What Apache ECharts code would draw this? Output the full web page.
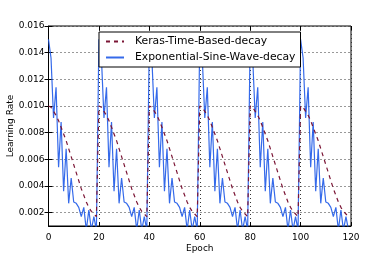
<!DOCTYPE html>
<html><head><meta charset="utf-8">
<script src="https://cdn.jsdelivr.net/npm/echarts@6/dist/echarts.min.js"></script>
<style>html,body{margin:0;padding:0;background:#fff}#c{width:390px;height:260px}</style>
</head><body><div id="c"></div>
<script>
// Keras time-based decay (restart every 20 epochs)
const kerasDecay = [
 0.0100,0.0099,0.0096,0.0093,0.0089,0.0084,0.0079,0.0074,0.0068,0.0062,0.0056,0.0050,0.0044,0.0038,0.0033,0.0028,0.0024,0.0021,0.0019,0.0017,
 0.0100,0.0099,0.0096,0.0093,0.0089,0.0084,0.0079,0.0074,0.0068,0.0062,0.0056,0.0050,0.0044,0.0038,0.0033,0.0028,0.0024,0.0021,0.0019,0.0017,
 0.0100,0.0099,0.0096,0.0093,0.0089,0.0084,0.0079,0.0074,0.0068,0.0062,0.0056,0.0050,0.0044,0.0038,0.0033,0.0028,0.0024,0.0021,0.0019,0.0017,
 0.0100,0.0099,0.0096,0.0093,0.0089,0.0084,0.0079,0.0074,0.0068,0.0062,0.0056,0.0050,0.0044,0.0038,0.0033,0.0028,0.0024,0.0021,0.0019,0.0017,
 0.0100,0.0099,0.0096,0.0093,0.0089,0.0084,0.0079,0.0074,0.0068,0.0062,0.0056,0.0050,0.0044,0.0038,0.0033,0.0028,0.0024,0.0021,0.0019,0.0017,
 0.0100,0.0099,0.0096,0.0093,0.0089,0.0084,0.0079,0.0074,0.0068,0.0062,0.0056,0.0050,0.0044,0.0038,0.0033,0.0028,0.0024,0.0021,0.0019,0.0017
];
// Exponential sine-wave decay
const sineDecay = [
 0.0150,0.0136,0.0091,0.0114,0.0054,0.0088,0.0036,0.0068,0.0027,0.0046,0.0028,0.0027,0.0024,0.0017,0.0024,0.0007,0.0022,0.0007,0.0017,0.0007,
 0.0150,0.0136,0.0091,0.0114,0.0054,0.0088,0.0036,0.0068,0.0027,0.0046,0.0028,0.0027,0.0024,0.0017,0.0024,0.0007,0.0022,0.0007,0.0017,0.0007,
 0.0150,0.0136,0.0091,0.0114,0.0054,0.0088,0.0036,0.0068,0.0027,0.0046,0.0028,0.0027,0.0024,0.0017,0.0024,0.0007,0.0022,0.0007,0.0017,0.0007,
 0.0150,0.0136,0.0091,0.0114,0.0054,0.0088,0.0036,0.0068,0.0027,0.0046,0.0028,0.0027,0.0024,0.0017,0.0024,0.0007,0.0022,0.0007,0.0017,0.0007,
 0.0150,0.0136,0.0091,0.0114,0.0054,0.0088,0.0036,0.0068,0.0027,0.0046,0.0028,0.0027,0.0024,0.0017,0.0024,0.0007,0.0022,0.0007,0.0017,0.0007,
 0.0150,0.0136,0.0091,0.0114,0.0054,0.0088,0.0036,0.0068,0.0027,0.0046,0.0028,0.0027,0.0024,0.0017,0.0024,0.0007,0.0022,0.0007,0.0017,0.0007
];
const xTicks = [0, 20, 40, 60, 80, 100, 120];
const yTicks = [0.002, 0.004, 0.006, 0.008, 0.010, 0.012, 0.014, 0.016];
const seriesNames = ['Keras-Time-Based-decay', 'Exponential-Sine-Wave-decay'];

const F = 'DejaVu Sans';
const toPairs = arr => arr.map((v, i) => [i, v]);
const chart = echarts.init(document.getElementById('c'), null, {renderer: 'canvas'});
const gridLine = {show: true, lineStyle: {color: '#333', type: [1, 3], width: 1}};
chart.setOption({
  animation: false,
  grid: {left: 48.5, right: 39, top: 26, bottom: 34, show: true, borderColor: '#000', borderWidth: 1,
         backgroundColor: 'transparent', containLabel: false, outerBoundsMode: 'none'},
  legend: {
    orient: 'vertical', left: 99, top: 32, itemGap: 5, itemWidth: 18, itemHeight: 10,
    padding: [4, 5, 4, 6], backgroundColor: '#fff', borderColor: '#000', borderWidth: 1, borderRadius: 0,
    itemStyle: {opacity: 0},
    textStyle: {fontFamily: F, fontSize: 10.8, color: '#000', padding: [0, 0, 0, 6]},
    data: seriesNames
  },
  xAxis: [{
    type: 'value', min: 0, max: 120, interval: 20,
    name: 'Epoch', nameLocation: 'middle', nameGap: 18, nameMoveOverlap: false,
    nameTextStyle: {fontFamily: F, fontSize: 9, color: '#000'},
    axisLine: {show: true, lineStyle: {color: '#000'}},
    axisTick: {show: true, inside: true, length: 4, lineStyle: {color: '#000'}},
    axisLabel: {fontFamily: F, fontSize: 9, color: '#000', margin: 7, customValues: xTicks},
    splitLine: gridLine
  }, {
    type: 'value', position: 'top', min: 0, max: 120, interval: 20,
    axisLine: {show: false}, axisTick: {show: true, inside: true, length: 4, lineStyle: {color: '#000'}},
    axisLabel: {show: false}, splitLine: {show: false}
  }],
  yAxis: [{
    type: 'value', min: 0.001, max: 0.016,
    name: 'Learning Rate', nameLocation: 'middle', nameGap: 33, nameMoveOverlap: false,
    nameTextStyle: {fontFamily: F, fontSize: 9, color: '#000'},
    axisLine: {show: true, lineStyle: {color: '#000'}},
    axisTick: {show: true, inside: true, length: 4, lineStyle: {color: '#000'}, customValues: yTicks},
    axisLabel: {fontFamily: F, fontSize: 9, color: '#000', margin: 4, customValues: yTicks, formatter: v => v.toFixed(3)},
    splitLine: gridLine
  }, {
    type: 'value', position: 'right', min: 0.001, max: 0.016,
    axisLine: {show: false},
    axisTick: {show: true, inside: true, length: 4, lineStyle: {color: '#000'}, customValues: yTicks},
    axisLabel: {show: false}, splitLine: {show: false}
  }],
  series: [{
    name: seriesNames[0], type: 'line', data: toPairs(kerasDecay), symbol: 'none', clip: true, z: 3,
    lineStyle: {color: '#7b1535', width: 1.2, type: [4, 4]}, itemStyle: {color: '#7b1535'}
  }, {
    name: seriesNames[1], type: 'line', data: toPairs(sineDecay), symbol: 'none', clip: true, z: 2,
    lineStyle: {color: '#1f5ae8', width: 1.2, opacity: 0.9}, itemStyle: {color: '#5f8ef0'}
  }]
});
</script></body></html>
